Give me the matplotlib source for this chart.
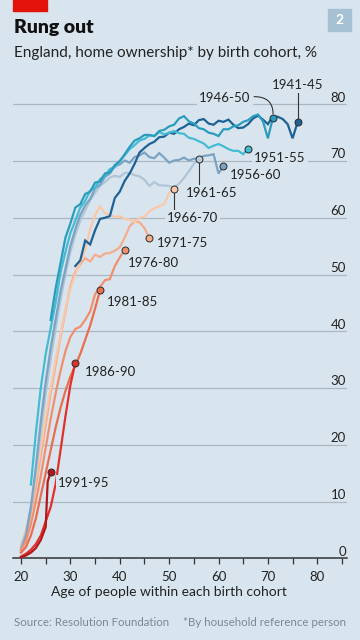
import matplotlib
matplotlib.use("Agg")
import matplotlib.pyplot as plt
import matplotlib.transforms as mtransforms
from matplotlib.patches import Rectangle

plt.rcParams["font.family"] = ["Lato", "DejaVu Sans"]

# cohorts, oldest first
cohorts = ["1941-45", "1946-50", "1951-55", "1956-60", "1961-65", "1966-70",
           "1971-75", "1976-80", "1981-85", "1986-90", "1991-95"]
start_ages = [31, 26, 22, 20, 20, 20, 20, 20, 20, 20, 20]

own_1941_45 = [51.5, 52.5, 56, 55.3, 57.8, 59.8, 60, 60.3, 63.5, 64.6, 66.5, 67.8,
               69.5, 71.5, 72.3, 73, 73.4, 74.2, 74.3, 75, 74.8, 75.6, 76, 76.6,
               76.3, 77.2, 77.4, 76.6, 76.4, 77.1, 76.9, 77.3, 76.4, 75.8, 75.9,
               76.5, 77.5, 78, 77.3, 76.5, 77.9, 77.8, 77.4, 76.5, 74, 76.8]
own_1946_50 = [42, 47.5, 52, 56.5, 59, 61.8, 62.4, 64.2, 64.6, 66.2, 66.4, 67.8,
               68, 69.3, 70, 71.2, 72.5, 73.6, 74, 74.6, 74.6, 74.4, 75.3, 75.5,
               76.1, 76.4, 77.5, 77.9, 77, 76.6, 75.8, 75.6, 75, 74.8, 74.4, 75.6,
               75.6, 76.1, 76.3, 76.9, 77.2, 77.9, 78.2, 77, 74, 77.6]
own_1951_55 = [13, 22, 30, 36, 40.5, 45, 50.3, 54, 57.3, 59.5, 61.8, 63, 64.8,
               65.3, 66.8, 67.4, 68.6, 68.9, 70, 71, 72.1, 72.8, 73.6, 73.9, 74.5,
               74.4, 75.1, 74.7, 75, 75.3, 74.9, 74.8, 74.1, 73.9, 73.5, 73.1,
               72.3, 72.7, 73, 72.6, 72.1, 71.8, 71.8, 71.2, 72.2]
own_1956_60 = [1.5, 4, 9, 16, 24, 31, 37, 42, 47, 51, 55, 58, 60.5, 62.2, 63.3,
               65.2, 65.8, 67.2, 67.8, 69.1, 69.4, 70.1, 69.7, 70.7, 71, 71.5,
               70.7, 70.5, 71.4, 70.6, 69.7, 70.1, 70.2, 70.6, 70.1, 70.4, 70.5,
               70.9, 71, 71.2, 67.8, 69.1]
own_1961_65 = [2, 4.5, 9, 15, 22, 29, 35, 40.5, 45.5, 50, 54, 57, 59.5, 61.3,
               63.1, 64.4, 65.6, 66.3, 67.1, 67.4, 67.2, 67.9, 67.9, 67.5, 67.3,
               66.7, 65.6, 66.3, 65.7, 65.7, 65.6, 65.4, 66, 67, 68.2, 69.5, 70.4]
own_1966_70 = [2.5, 5, 9, 14, 19.5, 25, 30, 35, 39.5, 44, 47.5, 50, 52.2, 54.3,
               58, 60.5, 62, 60.8, 60.6, 60.1, 60.3, 59.8, 59.7, 59.2, 60, 60.2,
               61.1, 61.7, 62, 62.4, 64.4, 65.1]
own_1971_75 = [2, 4, 8, 12.5, 18, 23.5, 29, 34, 39, 43.5, 48, 50.5, 51.8, 52.9,
               52.3, 53.5, 53.1, 53.7, 53.8, 54.2, 54.8, 56.5, 58.5, 59.4, 59.2,
               58.2, 56.4]
own_1976_80 = [1.5, 3, 6, 10, 14.5, 19.5, 24.5, 29, 33, 36.5, 39, 40.4, 40.8, 42,
               43.5, 46.5, 47.8, 49, 49.2, 51.5, 53, 54.4]
own_1981_85 = [1, 2, 4, 7, 11, 15, 19, 23, 26.5, 29.5, 32, 34, 36, 38.5, 41, 44,
               47.2]
own_1986_90 = [0.3, 0.8, 1.5, 2.5, 4, 6.5, 9, 13, 19, 25, 30.5, 34.5]
own_1991_95 = [0.2, 0.5, 1, 1.8, 3.2, 5.5, 13.5, 15.2]
ages_1991_95 = [20, 21, 22, 23, 24, 25, 25.4, 26]

series = [own_1941_45, own_1946_50, own_1951_55, own_1956_60, own_1961_65,
          own_1966_70, own_1971_75, own_1976_80, own_1981_85, own_1986_90,
          own_1991_95]

colors = ["#1d6296", "#2a9dbf", "#43bcd3", "#7ba3c3", "#aec6d7", "#f9c8ab",
          "#f6ab8a", "#f18f6c", "#ea6d4f", "#e0302b", "#b5161c"]
marker_faces = ["#1d6296", "#2a9dbf", "#43bcd3", "#7ba3c3", "#bccbd5", "#f9c8ab",
                "#f6ab8a", "#f18f6c", "#ea6d4f", "#e0302b", "#b5161c"]
line_order = [6, 8, 7, 5, 4, 3, 2, 9, 10, 11, 12]

BG = "#d9e5ee"
DARK = "#222222"
GRID = "#a9b8c3"

fig = plt.figure(figsize=(3.6, 6.4), dpi=100, facecolor=BG)
ax = fig.add_axes([13 / 360, 1 - 558.3 / 640, 334 / 360, (558.3 - 75) / 640])
ax.set_facecolor(BG)
ax.set_xlim(18.38, 86.02)
ax.set_ylim(0, 85.16)

for s in ["top", "right", "left"]:
    ax.spines[s].set_visible(False)
ax.spines["bottom"].set_color("#333333")
ax.spines["bottom"].set_linewidth(1.1)

ax.set_yticks([])
for v in range(10, 90, 10):
    ax.axhline(v, color=GRID, lw=0.9, zorder=1)
trans = mtransforms.blended_transform_factory(ax.transAxes, ax.transData)
for v in range(0, 90, 10):
    ax.text(0.997, v + 0.45, str(v), transform=trans, ha="right", va="baseline",
            fontsize=9.5, color=DARK)

ax.set_xticks(range(20, 90, 10))
ax.set_xticks(range(25, 90, 10), minor=True)
ax.tick_params(axis="x", which="both", direction="out", length=4, width=0.9,
               color="#333333", labelsize=9.5, labelcolor=DARK, pad=5)
ax.set_xlabel("Age of people within each birth cohort", fontsize=10, color=DARK)
ax.xaxis.set_label_coords(0.467, -0.058)

for i, vals in enumerate(series):
    if cohorts[i] == "1991-95":
        ages = ages_1991_95
    else:
        ages = list(range(start_ages[i], start_ages[i] + len(vals)))
    ax.plot(ages, vals, color=colors[i], lw=1.6, solid_joinstyle="miter",
            zorder=line_order[i], clip_on=False)
    ax.plot(ages[-1], vals[-1], "o", ms=5, mfc=marker_faces[i], mec="#2b2b2b",
            mew=0.7, zorder=20)

box = dict(boxstyle="square,pad=0.15", fc=BG, ec="none")
lab = dict(fontsize=9.5, color=DARK, va="baseline", zorder=15)

# label positions (age, value) of text
ax.text(76.1, 82.65, "1941-45", ha="center", bbox=box, **lab)
ax.plot([76, 76], [77.6, 82.1], color="#333333", lw=0.8, zorder=14)
ax.text(66.5, 80.46, "1946-50", ha="right", bbox=box, **lab)
ax.annotate("", xy=(71.05, 78.3), xytext=(67.2, 81.35),
            arrowprops=dict(arrowstyle="-", color="#333333", lw=0.8,
                            shrinkA=0, shrinkB=0,
                            connectionstyle="angle3,angleA=0,angleB=90"),
            zorder=14)
ax.text(67.2, 69.89, "1951-55", ha="left", bbox=box, **lab)
ax.text(62.2, 66.84, "1956-60", ha="left", bbox=box, **lab)
ax.text(53.4, 63.72, "1961-65", ha="left", bbox=box, **lab)
ax.plot([56, 56], [69.7, 65.9], color="#333333", lw=0.8, zorder=14)
ax.text(49.5, 59.21, "1966-70", ha="left", bbox=box, **lab)
ax.plot([51, 51], [64.4, 61.5], color="#333333", lw=0.8, zorder=14)
ax.text(47.5, 54.91, "1971-75", ha="left", bbox=box, **lab)
ax.text(41.7, 51.28, "1976-80", ha="left", bbox=box, **lab)
ax.text(37.4, 44.46, "1981-85", ha="left", bbox=box, **lab)
ax.text(33.0, 32.12, "1986-90", ha="left", bbox=box, **lab)
ax.text(27.4, 12.62, "1991-95", ha="left", bbox=box, **lab)

# header
fig.patches.append(Rectangle((13 / 360, 1 - 10.5 / 640), 34 / 360, 10.5 / 640,
                             transform=fig.transFigure, color="#e3120b"))
fig.patches.append(Rectangle((328 / 360, 1 - 31 / 640), 23 / 360, 22 / 640,
                             transform=fig.transFigure, color="#a7c1d4"))
fig.text(339.5 / 360, 1 - 20 / 640, "2", ha="center", va="center", color="white",
         fontsize=10, fontweight="bold")
fig.text(13.5 / 360, 1 - 33.3 / 640, "Rung out", fontsize=14, fontweight="heavy",
         color="#111111", va="baseline")
fig.text(13.5 / 360, 1 - 56.7 / 640, "England, home ownership* by birth cohort, %",
         fontsize=11, color=DARK, va="baseline")
fig.text(13.5 / 360, 1 - 626.5 / 640, "Source: Resolution Foundation", fontsize=8.3,
         color="#7b8893", va="baseline")
fig.text(346 / 360, 1 - 626.5 / 640, "*By household reference person", fontsize=8.3,
         color="#7b8893", va="baseline", ha="right")

fig.savefig("out.png", dpi=100, facecolor=BG)
